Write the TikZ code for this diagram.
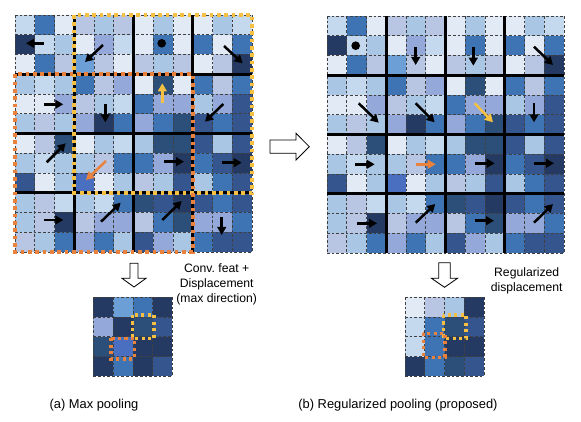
\documentclass[tikz,border=0pt]{standalone}
\usepackage{fontspec}
\setmainfont{Liberation Sans}
\usetikzlibrary{arrows.meta}
\definecolor{cW}{HTML}{E2EAF5}
\definecolor{cL}{HTML}{C5D9EE}
\definecolor{cS}{HTML}{A9C6E4}
\definecolor{cV}{HTML}{B8C6E4}
\definecolor{cP}{HTML}{94A9DA}
\definecolor{cA}{HTML}{6B9FD6}
\definecolor{cM}{HTML}{3F74B4}
\definecolor{cB}{HTML}{4A6FC0}
\definecolor{cD}{HTML}{35558F}
\definecolor{cT}{HTML}{2B4F78}
\definecolor{cN}{HTML}{243A63}
\definecolor{PoolYellow}{HTML}{F6C143}
\definecolor{PoolOrange}{HTML}{E8823C}

% 12x12 feature map, same tones on both sides
\newcommand{\featcells}{%
  \foreach \rowtones [count=\r from 0] in {%
      {L,M,W,V,S,V,W,S,W,W,S,L},{N,L,S,W,P,L,W,M,W,M,W,M},
      {W,M,V,A,V,W,V,S,V,W,V,N},{S,L,S,M,V,P,W,T,W,M,V,M},
      {W,W,P,V,S,L,M,P,P,S,P,D},{S,V,S,P,N,M,P,M,T,D,M,D},
      {W,V,T,W,S,L,S,T,T,D,S,D},{S,L,S,S,V,M,M,P,N,M,D,N},
      {D,W,S,B,W,S,V,S,D,S,M,D},{S,V,L,S,L,M,T,D,N,D,M,D},
      {S,V,N,V,P,P,V,M,T,P,P,M},{V,S,M,P,M,S,D,P,S,M,D,D}} {
    \foreach \tone [count=\k from 0] in \rowtones
      \fill[fill=c\tone] (\k,\r) rectangle ++(1,1);
  }
  \foreach \i in {0,...,12} {
    \draw[cellgrid] (\i,0) -- (\i,12);
    \draw[cellgrid] (0,\i) -- (12,\i);
  }
  \foreach \t in {3,6,9} {
    \draw[blockline] (\t,0) -- (\t,12);
    \draw[blockline] (0,\t) -- (12,\t);
  }
}

% 4x4 pooled map
\newcommand{\poolcells}[1]{%
  \foreach \rowtones [count=\r from 0] in {#1} {
    \foreach \tone [count=\k from 0] in \rowtones
      \fill[fill=c\tone] (\k,\r) rectangle ++(1,1);
  }
  \foreach \i in {0,...,4} {
    \draw[cellgrid] (\i,0) -- (\i,4);
    \draw[cellgrid] (0,\i) -- (4,\i);
  }
}

\begin{document}
\begin{tikzpicture}[x=0.3mm, y=-0.3mm,
  cellgrid/.style={black!75, line width=0.18mm, dash pattern=on 0.8mm off 0.6mm},
  blockline/.style={black, line width=0.9mm},
  disp/.style={-{Triangle[length=2.4mm, width=2.6mm]}, line width=0.75mm},
  ydisp/.style={disp, PoolYellow},
  odisp/.style={disp, PoolOrange},
  yellowbox/.style={draw=PoolYellow, line width=1.1mm, dash pattern=on 1.1mm off 1.1mm},
  orangebox/.style={draw=PoolOrange, line width=1.1mm, dash pattern=on 1.1mm off 1.1mm},
  ysmall/.style={draw=PoolYellow, line width=0.95mm, dash pattern=on 0.95mm off 1mm},
  osmall/.style={draw=PoolOrange, line width=0.95mm, dash pattern=on 0.95mm off 1mm},
  hollow/.style={draw=black, fill=white, line width=0.25mm},
  note/.style={font=\fontsize{10.4}{13}\selectfont, align=center},
  caption/.style={font=\fontsize{11}{13}\selectfont}
]
\useasboundingbox (0,0) rectangle (581,422);

%% (a) max pooling
\begin{scope}[shift={(15,15)}, x=5.925mm, y=-5.925mm]
  \featcells
  \draw[yellowbox] (3,0) rectangle (12,9);
  \draw[orangebox] (0,3) rectangle (9,12);
\end{scope}

\draw[disp] (44.3,43.3) -- (26,43.3);
\draw[disp] (103,45) -- (85,62);
\fill (161.7,43.3) circle (1.3mm);
\draw[disp] (224,46) -- (242.7,63.3);
\draw[ydisp] (162.3,102.7) -- (162.3,83.3);
\draw[disp] (44.3,104.3) -- (63.3,104.3);
\draw[disp] (105.3,104.3) -- (105.3,122.3);
\draw[disp] (223.3,104) -- (205,121.7);
\draw[disp] (46.7,162.3) -- (65.7,143.3);
\draw[odisp] (106,161) -- (86,180);
\draw[disp] (164.3,161.7) -- (184,161.7);
\draw[disp] (221.7,162.7) -- (241.7,162.7);
\draw[disp] (101,221.7) -- (120.7,202.7);
\draw[disp] (44.3,220) -- (63.3,220);
\draw[disp] (162.3,220) -- (181.7,201);
\draw[disp] (221.7,217.3) -- (221.7,235);

\draw[hollow] (130,263.3) -- (138,263.3) -- (138,278.3) -- (146,278.3)
  -- (134,287) -- (122,278.3) -- (130,278.3) -- cycle;

\begin{scope}[shift={(93.3,297.3)}, x=5.925mm, y=-5.925mm]
  \poolcells{{N,A,M,N},{P,N,T,D},{T,B,N,N},{N,M,N,D}}
\end{scope}
\draw[ysmall] (132.3,315) rectangle (154,338.3);
\draw[osmall] (111,338.3) rectangle (134.3,359);

\node[note] (featnote) at (216.7,284.3) {Conv.\ feat +\\Displacement\\(max direction)};
\node[caption] (capa) at (94,405) {(a) Max pooling};

%% between the panels
\draw[hollow] (270,140) -- (296,140) -- (296,133.3) -- (309.3,146.7)
  -- (296,160) -- (296,153.3) -- (270,153.3) -- cycle;

%% (b) regularized pooling
\begin{scope}[shift={(327,16)}, x=5.925mm, y=-5.925mm]
  \featcells
\end{scope}

\fill (355.7,45.7) circle (1.3mm);
\draw[disp] (415.7,46.7) -- (415.7,65);
\draw[disp] (473.3,46.7) -- (473.3,65.7);
\draw[disp] (534,46.7) -- (553,65);
\draw[disp] (358.7,103.3) -- (378.7,122.7);
\draw[disp] (415.7,103.3) -- (434.7,122.3);
\draw[ydisp] (474.7,103.3) -- (493,122.3);
\draw[disp] (534,103.3) -- (534,122.3);
\draw[disp] (355.3,164.3) -- (374.7,164.3);
\draw[odisp] (416.3,164.3) -- (435.7,164.3);
\draw[disp] (474.7,163.3) -- (494.7,163.3);
\draw[disp] (534,163.3) -- (554,163.3);
\draw[disp] (357.3,223.3) -- (377,223.3);
\draw[disp] (415.7,222.7) -- (435.3,204);
\draw[disp] (474.7,220.7) -- (494,220.7);
\draw[disp] (534,222.7) -- (553,204);

\draw[hollow] (438.7,262.7) -- (450.3,262.7) -- (450.3,278.3) -- (457.5,278.3)
  -- (444.5,287.3) -- (431.5,278.3) -- (438.7,278.3) -- cycle;

\begin{scope}[shift={(405,297.3)}, x=5.925mm, y=-5.925mm]
  \poolcells{{W,V,S,N},{L,M,T,D},{L,M,N,N},{N,M,T,D}}
\end{scope}
\draw[ysmall] (443.3,315) rectangle (466,338.3);
\draw[osmall] (423.3,333.3) rectangle (445,357.3);

\node[note] (regnote) at (526.7,280.5) {Regularized\\displacement};
\node[caption] (capb) at (398,405) {(b) Regularized pooling (proposed)};

\end{tikzpicture}
\end{document}
